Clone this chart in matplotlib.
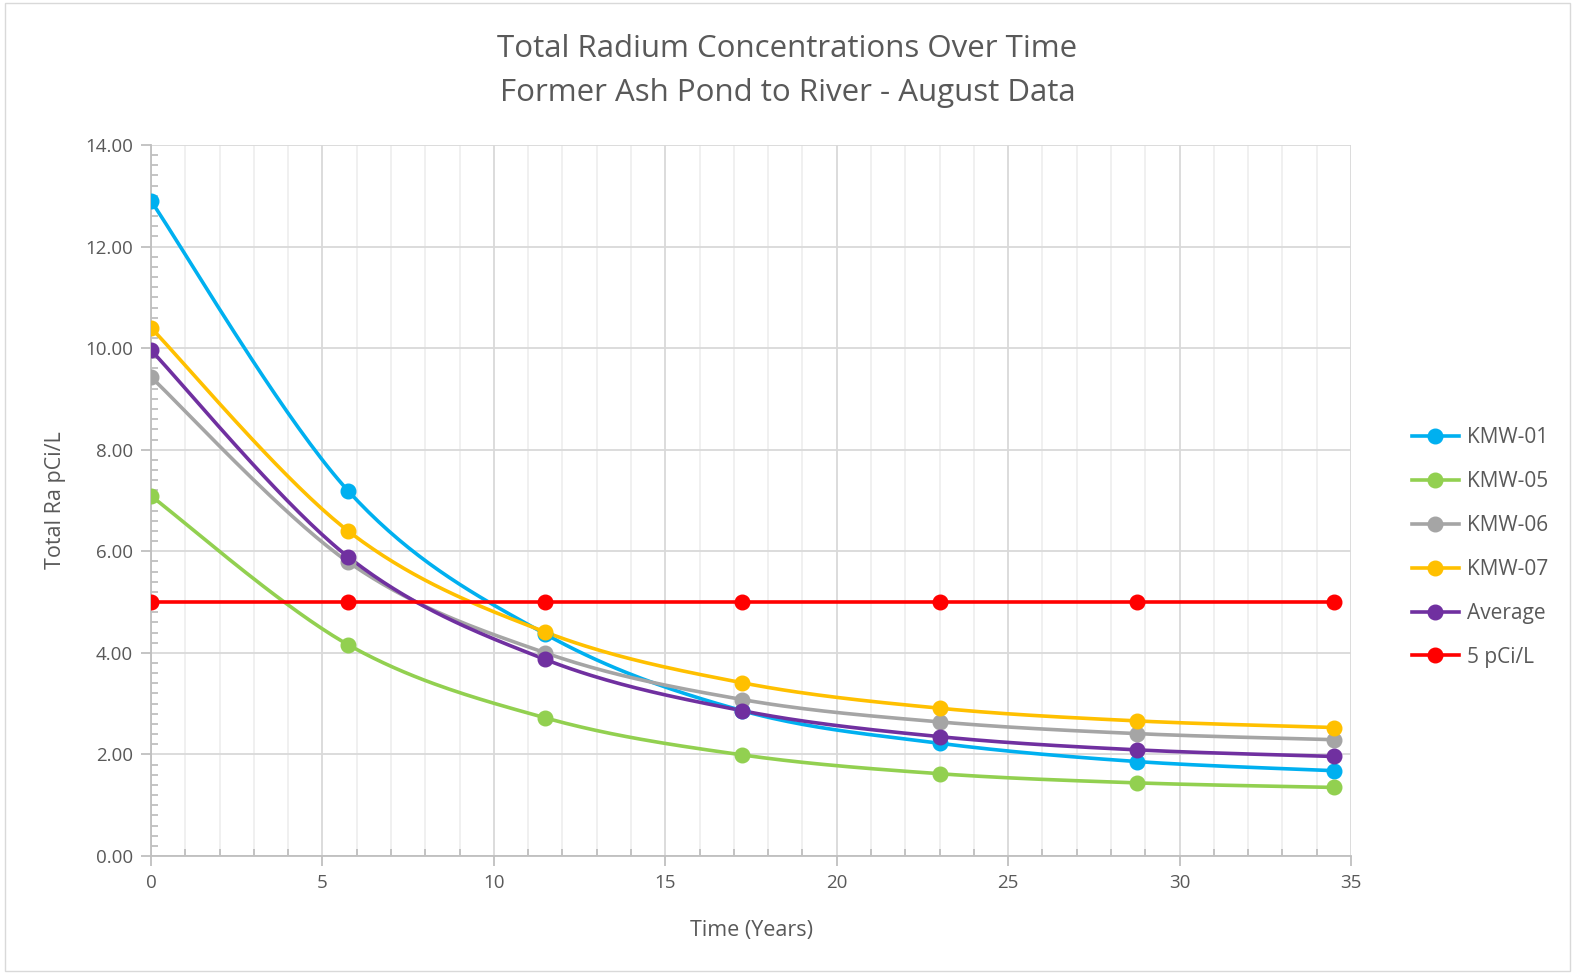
import numpy as np
import matplotlib
matplotlib.use("Agg")
import matplotlib.pyplot as plt
from matplotlib.ticker import MultipleLocator, FormatStrFormatter
from matplotlib.patches import Rectangle

plt.rcParams['font.family'] = ['Open Sans', 'DejaVu Sans']

years = [0, 5.75, 11.5, 17.25, 23, 28.75, 34.5]
kmw01 = [12.90, 7.19, 4.37, 2.86, 2.22, 1.86, 1.68]
kmw05 = [7.09, 4.16, 2.72, 1.99, 1.62, 1.44, 1.35]
kmw06 = [9.43, 5.79, 4.00, 3.08, 2.64, 2.41, 2.29]
kmw07 = [10.40, 6.40, 4.41, 3.41, 2.91, 2.66, 2.53]
average = [9.96, 5.89, 3.87, 2.86, 2.35, 2.09, 1.96]
limit = [5, 5, 5, 5, 5, 5, 5]

series = [
    ("KMW-01", kmw01, "#00b0f0"),
    ("KMW-05", kmw05, "#92d050"),
    ("KMW-06", kmw06, "#a5a5a5"),
    ("KMW-07", kmw07, "#ffc000"),
    ("Average", average, "#7030a0"),
    ("5 pCi/L", limit, "#ff0000"),
]


def smooth(x, y, n=40):
    # Excel-style smoothed line: Catmull-Rom as cubic Bezier segments
    p = np.column_stack([x, y]).astype(float)
    pts = np.vstack([p[0], p, p[-1]])
    t = np.linspace(0, 1, n)[:, None]
    out = []
    for i in range(1, len(pts) - 2):
        p0, p1, p2, p3 = pts[i - 1], pts[i], pts[i + 1], pts[i + 2]
        c1 = p1 + (p2 - p0) / 6
        c2 = p2 - (p3 - p1) / 6
        seg = ((1 - t) ** 3) * p1 + 3 * ((1 - t) ** 2) * t * c1 + 3 * (1 - t) * t ** 2 * c2 + t ** 3 * p2
        out.append(seg if i == 1 else seg[1:])
    s = np.vstack(out)
    return s[:, 0], s[:, 1]


fig = plt.figure(figsize=(15.75, 9.74), dpi=100)
ax = fig.add_axes([151 / 1575, 1 - 856 / 974, 1200 / 1575, 711 / 974])

for name, vals, col in series:
    sx, sy = smooth(years, vals)
    ax.plot(sx, sy, color=col, lw=2.6, solid_capstyle='round', zorder=3)
    ax.plot(years, vals, 'o', color=col, ms=10.5, zorder=4)
    ax.plot([], [], '-o', color=col, lw=2.6, ms=10.5, label=name)

ax.set_xlim(0, 35)
ax.set_ylim(0, 14)
ax.xaxis.set_major_locator(MultipleLocator(5))
ax.xaxis.set_minor_locator(MultipleLocator(1))
ax.yaxis.set_major_locator(MultipleLocator(2))
ax.yaxis.set_minor_locator(MultipleLocator(0.2))
ax.yaxis.set_major_formatter(FormatStrFormatter('%.2f'))

ax.grid(which='major', color='#d9d9d9', lw=1.3, zorder=0)
ax.grid(which='minor', axis='x', color='#efefef', lw=1.3, zorder=0)
ax.set_axisbelow(True)

for s in ['top', 'right']:
    ax.spines[s].set_visible(False)
for s in ['left', 'bottom']:
    ax.spines[s].set_color('#bfbfbf')
    ax.spines[s].set_linewidth(1.3)

ax.tick_params(which='major', direction='out', length=7, width=1.3, color='#bfbfbf',
               labelsize=13.5, labelcolor='#595959', pad=6)
ax.tick_params(which='minor', direction='in', length=5, width=1.3, color='#bfbfbf')

ax.set_xlabel('Time (Years)', fontsize=15.5, color='#595959', labelpad=20)
ax.set_ylabel('Total Ra pCi/L', fontsize=15.5, color='#595959', labelpad=14)

fig.text(0.5, 1 - 71 / 974, 'Total Radium Concentrations Over Time\nFormer Ash Pond to River - August Data',
         ha='center', va='center', fontsize=22.5, color='#595959', linespacing=1.6)

leg = ax.legend(loc='center left', bbox_to_anchor=(1.035, 0.434), frameon=False,
                fontsize=15, labelcolor='#595959', handlelength=2.25, handletextpad=0.4,
                labelspacing=1.1)

fig.add_artist(Rectangle((0.003, 0.003), 0.994, 0.994, transform=fig.transFigure,
                         fill=False, edgecolor='#d9d9d9', lw=1))

fig.savefig('out.png', dpi=100)
